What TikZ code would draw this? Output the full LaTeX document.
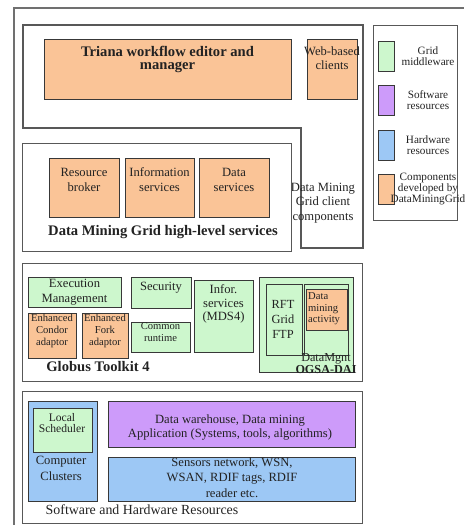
\documentclass[tikz,border=0pt]{standalone}
\usepackage{fontspec}
\setmainfont{Liberation Serif}
\usetikzlibrary{positioning}
\definecolor{ink}{HTML}{222222}
\definecolor{edge}{HTML}{383838}
\definecolor{wallc}{HTML}{585858}
\definecolor{rim}{HTML}{707070}
\definecolor{orng}{HTML}{FAC497}
\definecolor{mint}{HTML}{CDF7CD}
\definecolor{lilac}{HTML}{CD9BFA}
\definecolor{sky}{HTML}{9DC8F5}
\newcommand{\Txt}{\fontsize{12.6}{14.8}\selectfont}
\newcommand{\Tight}{\fontsize{10.6}{11.6}\selectfont}
\newcommand{\Lgd}{\fontsize{11.2}{11.4}\selectfont}
\newcommand{\Ttl}{\fontsize{14.6}{13.6}\selectfont\bfseries}
\tikzset{
  blk/.style={draw=edge, line width=1pt, fill=#1, anchor=north west, inner sep=0pt},
  blk/.default=none,
  wall/.style={draw=wallc, line width=1.3pt, anchor=north west, inner sep=0pt},
  wh/.style 2 args={minimum width=#1pt, minimum height=#2pt},
  txt/.style={text=ink, align=center, inner sep=0pt, font=\Txt},
}
\begin{document}
\begin{tikzpicture}[x=1pt,y=-1pt]
  \useasboundingbox (0,0) rectangle (464,525);
  \draw[rim, line width=1.5pt] (14,525) |- (464,8);
  % client side
  \draw[wallc, line width=1.3pt] (23,25) -| (363,248) -| (301,128) -- (23,128) -- cycle;
  \node[blk=orng, wh={247}{60}] (triana) at (44,39) {};
  \node[txt, font=\Ttl] (triana-t) at (167.5,59.5) {Triana workflow editor and\\manager};
  \node[blk=orng, wh={50}{60}] (web) at (307,39) {};
  \node[txt, font=\fontsize{12.6}{14}\selectfont] (web-t) at (332,58) {Web-based\\clients};
  \node[txt] (client-t) at (323,203) {Data Mining\\Grid client\\components};
  \node[wall, wh={269}{108}] (hls) at (22,143) {};
  \foreach \x/\w/\nm/\t in {49/70/rb/Resource\\broker, 125/69/is/Information\\services, 199/70/ds/Data\\services}{
    \node[blk=orng, wh={\w}{59}] (\nm) at (\x,158) {};
    \node[txt] (\nm-t) at (\x+\w/2,180) {\t};}
  \node[txt, font=\Ttl] (hls-t) at (163,232) {Data Mining Grid high-level services};
  % legend
  \node[wall, wh={84}{195}] (lgd) at (373,25) {};
  \foreach \y/\c/\nm/\t in {41/mint/gm/Grid\\middleware, 85/lilac/sw/Software\\resources, 130/sky/hw/Hardware\\resources, 174/orng/dmg/Components\\developed by\\DataMiningGrid}{
    \node[blk=\c, wh={16}{30}] (\nm) at (378,\y) {};
    \node[txt, font=\Lgd] (\nm-t) at (428,\y+15) {\t};}
  % globus toolkit
  \node[wall, wh={340}{118}] (gt) at (22,263) {};
  \node[blk=mint, wh={93}{30}] (exec) at (28,277) {};
  \node[txt] (exec-t) at (74.5,292) {Execution\\Management};
  \node[blk=mint, wh={60}{31}] (sec) at (131,277) {};
  \node[txt] (sec-t) at (161,288) {Security};
  \node[blk=mint, wh={59}{72}] (infor) at (194,280) {};
  \node[txt, font=\fontsize{12.6}{13.4}\selectfont] (infor-t) at (223.5,304) {Infor.\\services\\(MDS4)};
  \node[blk=orng, wh={48}{45}] (condor) at (28,313) {};
  \node[txt, font=\Tight] (condor-t) at (52,331) {Enhanced\\Condor\\adaptor};
  \node[blk=orng, wh={46}{45}] (fork) at (82,313) {};
  \node[txt, font=\Tight] (fork-t) at (105,331) {Enhanced\\Fork\\adaptor};
  \node[blk=mint, wh={59}{30}] (crt) at (131,322) {};
  \node[txt, font=\Tight] (crt-t) at (160.5,332) {Common\\runtime};
  \node[txt, font=\Ttl] (gt-t) at (98,367) {Globus Toolkit 4};
  \node[blk=mint, wh={94}{95}] (dmo) at (259,277) {};
  \node[blk=mint, wh={36}{71}] (rft) at (266,284) {};
  \node[txt, font=\fontsize{12.4}{15}\selectfont] (rft-t) at (283,319) {RFT\\Grid\\FTP};
  \node[blk=mint, wh={44}{71}] (dmi) at (304,284) {};
  \node[blk=orng, line width=1.3pt, wh={41}{41}] (dma) at (306,289) {};
  \node[txt, font=\Tight, align=left, anchor=west] (dma-t) at (308,309) {Data\\mining\\activity};
  \node[txt, font=\fontsize{12.2}{12.4}\selectfont] (dmo-t) at (326,363.5) {DataMgnt\\\textbf{OGSA-DAI}};
  % resources
  \node[wall, wh={340}{132}] (shr) at (22,391) {};
  \node[blk=sky, wh={69}{100}] (clus) at (28,401) {};
  \node[txt, font=\fontsize{12.6}{16}\selectfont] (clus-t) at (61,468) {Computer\\Clusters};
  \node[blk=mint, line width=1.3pt, wh={59}{44}] (lsch) at (33,408) {};
  \node[txt, font=\fontsize{11.6}{11.8}\selectfont] (lsch-t) at (62,423) {Local\\Scheduler};
  \node[blk=lilac, wh={247}{46}] (app) at (108,401) {};
  \node[txt] (app-t) at (230,427.5) {Data warehouse, Data mining\\Application (Systems, tools, algorithms)};
  \node[blk=sky, wh={247}{44}] (sens) at (108,457) {};
  \node[txt, font=\fontsize{12.6}{15.5}\selectfont] (sens-t) at (232,477.5) {Sensors network, WSN,\\WSAN, RDIF tags, RDIF\\reader etc.};
  \node[txt, font=\fontsize{13.9}{16}\selectfont] (shr-t) at (142,510) {Software and Hardware Resources};
\end{tikzpicture}
\end{document}
